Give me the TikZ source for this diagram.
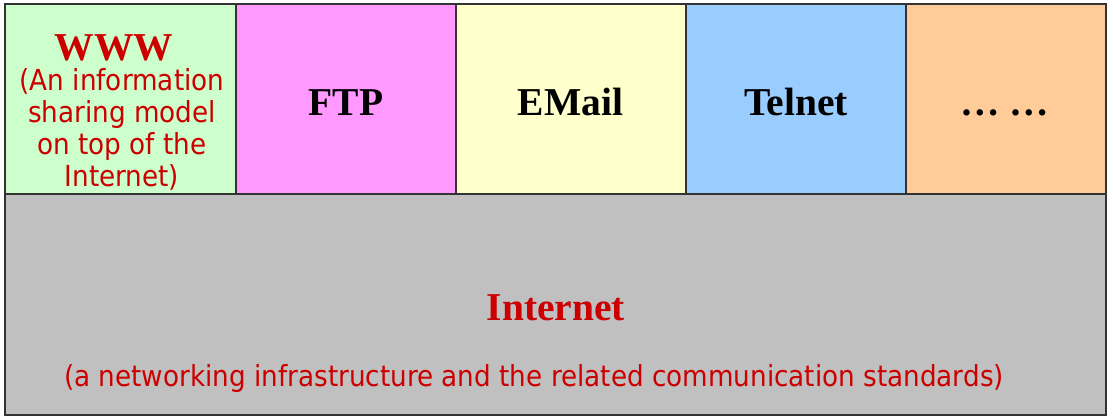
\documentclass[tikz,border=0pt]{standalone}
\usepackage{fontspec}
\setmainfont{Liberation Serif}
\newfontfamily\tah[FakeStretch=0.905]{DejaVu Sans}
\definecolor{cgreen}{HTML}{CCFFCC}
\definecolor{cpink}{HTML}{FF99FF}
\definecolor{cyellow}{HTML}{FFFFCC}
\definecolor{cblue}{HTML}{99CCFF}
\definecolor{corange}{HTML}{FFCC99}
\definecolor{cgray}{HTML}{C0C0C0}
\definecolor{cred}{HTML}{CC0000}
\definecolor{cedge}{HTML}{333333}
\tikzset{
  cell/.style={draw=cedge, line width=1.3pt, rectangle, inner sep=0pt, minimum height=190pt},
  title/.style={font=\fontsize{39.5}{39.5}\selectfont\bfseries, inner sep=0pt, anchor=base},
  sub/.style={font=\tah\fontsize{29}{32}\selectfont, text=cred, inner sep=0pt, align=center}
}
\begin{document}
\begin{tikzpicture}[x=1pt,y=-1pt]
\useasboundingbox (0,0) rectangle (1113,420);
\fill[white] (0,0) rectangle (1113,420);
\node[cell, fill=cgray, minimum width=1101pt, minimum height=221pt] (inet) at (555.5,304.5) {};
\node[cell, fill=cgreen, minimum width=231pt] (www) at (120.5,99) {};
\node[cell, fill=cpink, minimum width=220pt] (ftp) at (346,99) {};
\node[cell, fill=cyellow, minimum width=230pt] (email) at (571,99) {};
\node[cell, fill=cblue, minimum width=220pt] (telnet) at (796,99) {};
\node[cell, fill=corange, minimum width=200pt] (more) at (1006,99) {};
\node[title, text=cred] (wwwt) at (114,60) {WWW};
\node[sub, anchor=center] (wwwsub) at (122,129) {(An information\\sharing model\\on top of the\\Internet)};
\node[title] (ftpt) at (346,115) {FTP};
\node[title] (emailt) at (570.5,115) {EMail};
\node[title] (telnett) at (796,115) {Telnet};
\node[title] (moret) at (1004.5,115) {\dots\ \dots};
\node[title, text=cred] (inett) at (556,320) {Internet};
\node[sub, anchor=base] (inetsub) at (534,386) {(a networking infrastructure and the related communication standards)};
\end{tikzpicture}
\end{document}
